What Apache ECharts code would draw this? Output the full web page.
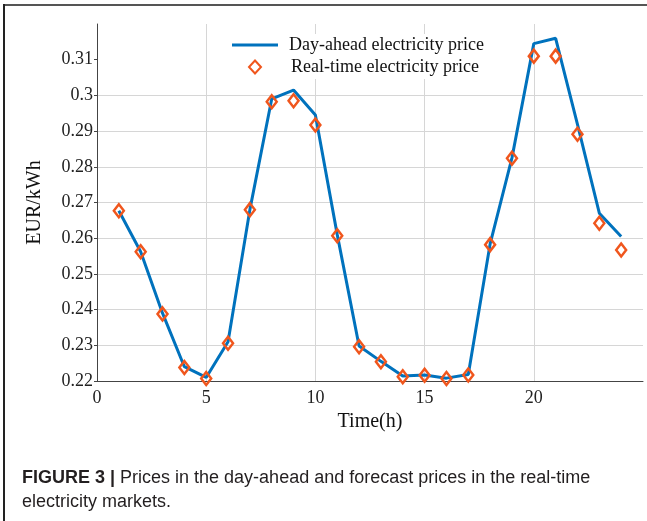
<!DOCTYPE html>
<html><head><meta charset="utf-8">
<script src="https://cdn.jsdelivr.net/npm/echarts@6/dist/echarts.min.js"></script>
<style>html,body{margin:0;padding:0;background:#fff}#c{width:647px;height:521px}</style>
</head><body><div id="c"></div>
<script>
const hours = [1,2,3,4,5,6,7,8,9,10,11,12,13,14,15,16,17,18,19,20,21,22,23,24];
const dayAheadPrice = [0.2677,0.2562,0.2390,0.2240,0.2210,0.2310,0.2680,0.2990,0.3015,0.2945,0.2610,0.2298,0.2255,0.2214,0.2217,0.2208,0.2218,0.2584,0.2825,0.3145,0.3160,0.2919,0.2670,0.2605];
const realTimePrice = [0.2677,0.2562,0.2388,0.2238,0.2207,0.2306,0.2680,0.2982,0.2985,0.2917,0.2607,0.2296,0.2254,0.2212,0.2216,0.2207,0.2217,0.2582,0.2824,0.3110,0.3110,0.2891,0.2642,0.2567];
const xTickLabels = ['0','5','10','15','20'];
const yTickLabels = ['0.22','0.23','0.24','0.25','0.26','0.27','0.28','0.29','0.3','0.31'];
const seriesNames = ['Day-ahead electricity price','Real-time electricity price'];
const xAxisName = 'Time(h)';
const yAxisName = 'EUR/kWh';
const captionBold = 'FIGURE 3 |';
const captionLines = [' Prices in the day-ahead and forecast prices in the real-time', 'electricity markets.'];

const serif = '"Liberation Serif","Times New Roman",serif';
const sans = '"Liberation Sans",Arial,sans-serif';
const chart = echarts.init(document.getElementById('c'), null, {renderer:'canvas'});
const xTickValues = xTickLabels.map(Number);
const yTickValues = yTickLabels.map(Number);
const fmt = v => +(+v).toFixed(4) + '';
chart.setOption({
  animation:false,
  backgroundColor:'#fff',
  title:{
    left:22, top:466, padding:0,
    text:'{b|' + captionBold + '}{n|' + captionLines[0] + '}\n{n|' + captionLines[1] + '}',
    textStyle:{
      fontSize:18, lineHeight:24, color:'#231f20', fontFamily:sans,
      rich:{
        b:{fontWeight:'bold', fontSize:18, lineHeight:24, color:'#231f20', fontFamily:sans},
        n:{fontWeight:'normal', fontSize:18, lineHeight:24, color:'#231f20', fontFamily:sans}
      }
    }
  },
  graphic:[
    {type:'line', shape:{x1:4,y1:5,x2:647,y2:5}, style:{stroke:'#555', lineWidth:2}},
    {type:'line', shape:{x1:4,y1:4,x2:4,y2:521}, style:{stroke:'#222', lineWidth:2}}
  ],
  grid:{left:97, top:24, right:4, bottom:140, containLabel:false},
  legend:[
    {
      orient:'vertical', left:228, top:34, padding:[2,4,3,4],
      itemWidth:46, itemHeight:3, backgroundColor:'#fff',
      textStyle:{fontFamily:serif, fontSize:18, color:'#111', padding:[0,0,0,6]},
      data:[{name:seriesNames[0], icon:'rect'}]
    },
    {
      orient:'vertical', left:244, top:56, padding:[2,4,3,4],
      itemWidth:12, itemHeight:13, backgroundColor:'#fff',
      textStyle:{fontFamily:serif, fontSize:18, color:'#111', padding:[0,0,0,25]},
      data:[seriesNames[1]]
    }
  ],
  xAxis:{
    type:'value', min:0, max:25, interval:5,
    name:xAxisName, nameLocation:'middle', nameGap:25,
    nameTextStyle:{fontFamily:serif, fontSize:20, color:'#111', verticalAlign:'top'},
    axisLine:{show:true, onZero:false, lineStyle:{color:'#444', width:1}},
    axisTick:{show:false},
    axisLabel:{fontFamily:serif, fontSize:18, color:'#222', margin:8,
      customValues:xTickValues, formatter:v => fmt(v)},
    splitLine:{show:true, showMinLine:false, showMaxLine:false, lineStyle:{color:'#d6d6d6', width:1}}
  },
  yAxis:{
    type:'value', min:0.22, max:0.32, interval:0.01,
    name:yAxisName, nameLocation:'middle', nameGap:52, nameRotate:90,
    nameTextStyle:{fontFamily:serif, fontSize:20, color:'#111'},
    axisLine:{show:true, onZero:false, lineStyle:{color:'#444', width:1}},
    axisTick:{show:true, length:3, customValues:yTickValues, lineStyle:{color:'#444'}},
    axisLabel:{fontFamily:serif, fontSize:18, color:'#222', margin:4,
      customValues:yTickValues, formatter:v => fmt(v)},
    splitLine:{show:true, showMinLine:false, showMaxLine:false, lineStyle:{color:'#d6d6d6', width:1}}
  },
  series:[
    {
      name:seriesNames[0], type:'line', symbol:'none',
      data:hours.map((h,i)=>[h, dayAheadPrice[i]]),
      lineStyle:{color:'#0072bd', width:3}, itemStyle:{color:'#0072bd'}, z:2
    },
    {
      name:seriesNames[1], type:'scatter', symbol:'diamond', symbolSize:[10,13],
      data:hours.map((h,i)=>[h, realTimePrice[i]]),
      itemStyle:{color:'rgba(255,255,255,0)', borderColor:'#f0561d', borderWidth:2.5, opacity:1}, z:3
    }
  ]
});
</script></body></html>
